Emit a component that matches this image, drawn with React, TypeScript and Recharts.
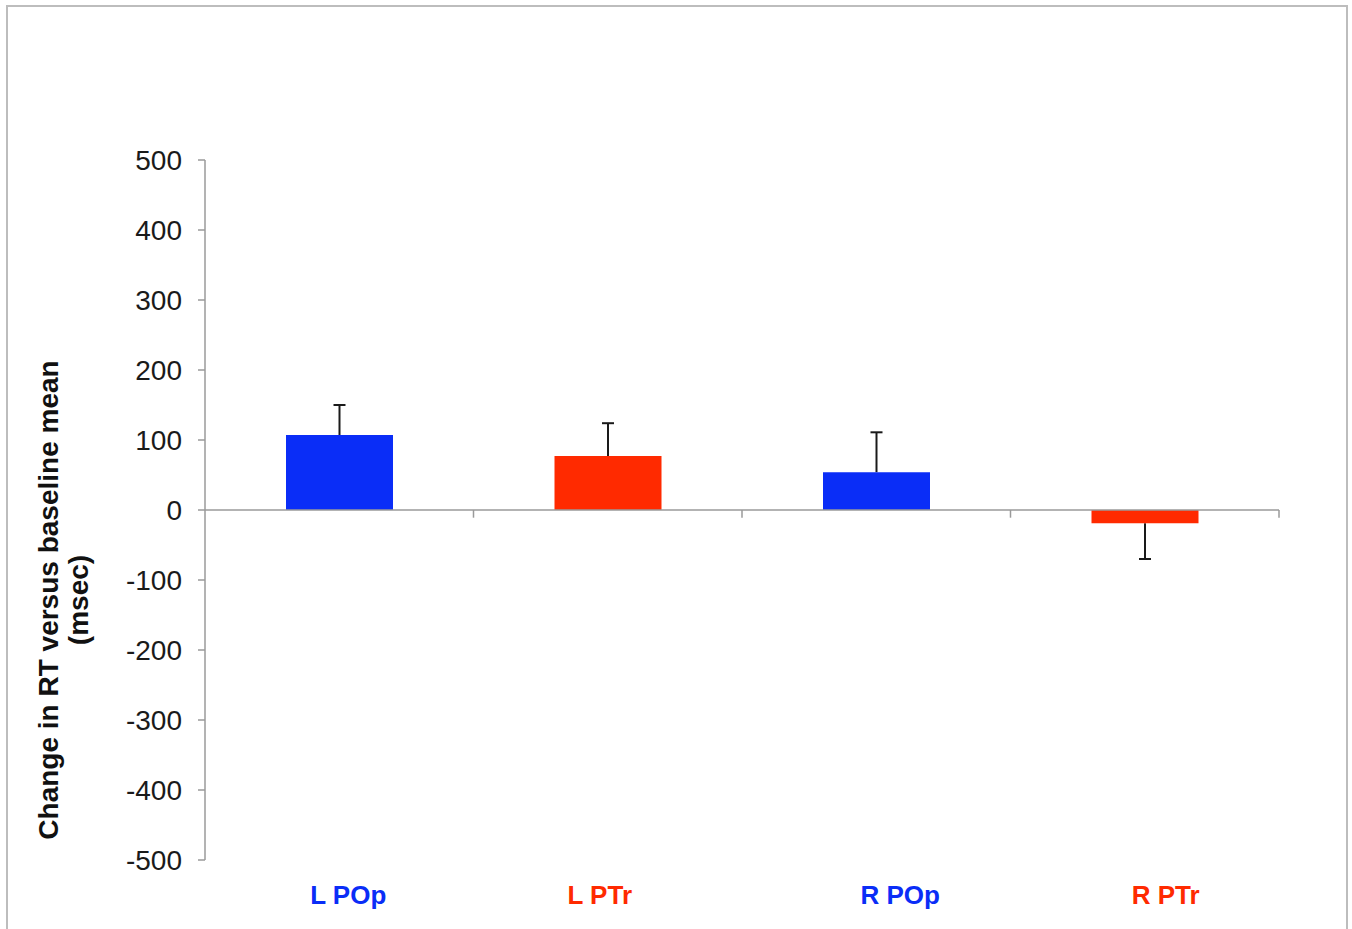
import React from 'react';
import { BarChart, Bar, XAxis, YAxis, ReferenceLine, Cell } from 'recharts';

const categories = ['L POp', 'L PTr', 'R POp', 'R PTr'];
const categoryPositions = [0.5, 1.5, 2.5, 3.5];
const changeMs = [107, 77, 54, -19];
const errorMs = [43, 47, 57, 51];
const barColors = ['#0a2df7', '#ff2a00', '#0a2df7', '#ff2a00'];
const yTicks = [-500, -400, -300, -200, -100, 0, 100, 200, 300, 400, 500];
const categoryBoundaries = [1, 2, 3, 4];
const tickLabelDx = [9, -8, 24, 21];

const FONT = '"Liberation Sans", Arial, sans-serif';
const AXIS_GRAY = '#9a9a9a';

const data = categories.map((name, i) => ({
  name,
  pos: categoryPositions[i],
  value: changeMs[i],
  err:
    changeMs[i] >= 0
      ? [changeMs[i], changeMs[i] + errorMs[i]]
      : [changeMs[i] - errorMs[i], changeMs[i]],
}));

const ErrorShape = (props: any) => {
  const { x, y, width, height, payload } = props;
  if (x == null || y == null) return null;
  const cx = x + width / 2;
  const positive = payload && payload.value >= 0;
  const capY = positive ? y : y + height;
  return (
    <g>
      <line x1={cx} x2={cx} y1={y} y2={y + height} stroke="#1a1a1a" strokeWidth={2} />
      <line x1={cx - 6} x2={cx + 6} y1={capY} y2={capY} stroke="#1a1a1a" strokeWidth={2} />
    </g>
  );
};

const CategoryTick = (props: any) => {
  const { x, payload, index } = props;
  const i = categoryPositions.indexOf(payload.value);
  const idx = i >= 0 ? i : index;
  return (
    <text
      x={x + (tickLabelDx[idx] || 0)}
      y={904}
      textAnchor="middle"
      fontFamily={FONT}
      fontWeight="bold"
      fontSize={26}
      fill={barColors[idx]}
    >
      {categories[idx]}
    </text>
  );
};

const YTitle = () => (
  <text
    transform="translate(58,600) rotate(-90)"
    textAnchor="middle"
    fontFamily={FONT}
    fontWeight="bold"
    fontSize={28}
    fill="#111"
  >
    <tspan x={0} dy={0}>Change in RT versus baseline mean</tspan>
    <tspan x={0} dy={30}>(msec)</tspan>
  </text>
);

export default function App() {
  return (
    <div style={{ position: 'relative', width: 1352, height: 929, overflow: 'hidden', background: '#fff' }}>
      <style>{`body{margin:0;overflow:hidden;}`}</style>
      <div
        style={{
          position: 'absolute',
          left: 6,
          top: 5,
          width: 1342,
          height: 960,
          border: '2px solid #bdbdbd',
          boxSizing: 'border-box',
        }}
      />
      <div style={{ position: 'absolute', left: 0, top: 0 }}>
        <BarChart
          width={1352}
          height={929}
          data={data}
          margin={{ top: 160, right: 73, bottom: 19, left: 105 }}
        >
          <XAxis
            xAxisId="main"
            type="number"
            dataKey="pos"
            domain={[0, 4]}
            ticks={categoryPositions}
            interval={0}
            axisLine={false}
            tickLine={false}
            tick={<CategoryTick />}
            height={50}
          />
          <XAxis xAxisId="err" type="number" dataKey="pos" domain={[0, 4]} hide />
          <YAxis
            type="number"
            domain={[-500, 500]}
            ticks={yTicks}
            interval={0}
            width={100}
            tickSize={7}
            tickMargin={16}
            axisLine={{ stroke: AXIS_GRAY, strokeWidth: 1.5 }}
            tickLine={{ stroke: AXIS_GRAY, strokeWidth: 1.5 }}
            tick={{ fontSize: 28, fill: '#1a1a1a', fontFamily: FONT }}
            label={{ content: <YTitle /> }}
          />
          <ReferenceLine xAxisId="main" y={0} stroke={AXIS_GRAY} strokeWidth={1.5} />
          {categoryBoundaries.map((b) => (
            <ReferenceLine
              key={b}
              xAxisId="main"
              segment={[
                { x: b, y: 0 },
                { x: b, y: -11 },
              ]}
              stroke={AXIS_GRAY}
              strokeWidth={1.5}
            />
          ))}
          <Bar xAxisId="err" dataKey="err" barSize={107} shape={<ErrorShape />} isAnimationActive={false} />
          <Bar xAxisId="main" dataKey="value" barSize={107} isAnimationActive={false}>
            {data.map((d, i) => (
              <Cell key={d.name} fill={barColors[i]} />
            ))}
          </Bar>
        </BarChart>
      </div>
    </div>
  );
}
